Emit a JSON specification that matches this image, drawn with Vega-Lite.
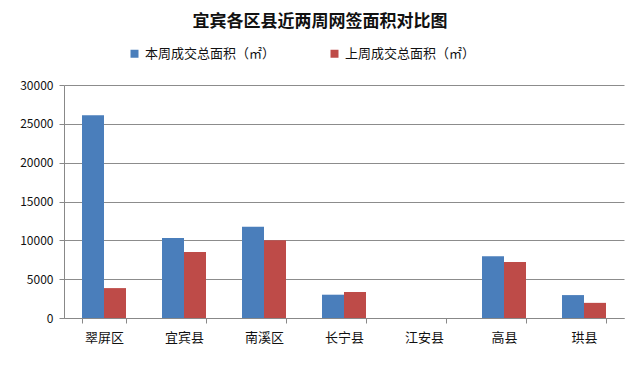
{
  "$schema": "https://vega.github.io/schema/vega-lite/v6.json",
  "autosize": "none",
  "width": 560,
  "height": 233,
  "padding": {"left": 64, "top": 85, "right": 16, "bottom": 49},
  "background": "white",
  "title": {
    "text": "宜宾各区县近两周网签面积对比图",
    "font": "Noto Sans CJK SC",
    "fontSize": 17,
    "fontWeight": "bold",
    "color": "#111",
    "anchor": "middle",
    "frame": "group",
    "dx": -24,
    "offset": 16
  },
  "data": {
    "values": [
      {"区县": "翠屏区", "系列": "本周成交总面积（㎡）", "面积": 26100},
      {"区县": "翠屏区", "系列": "上周成交总面积（㎡）", "面积": 3850},
      {"区县": "宜宾县", "系列": "本周成交总面积（㎡）", "面积": 10300},
      {"区县": "宜宾县", "系列": "上周成交总面积（㎡）", "面积": 8500},
      {"区县": "南溪区", "系列": "本周成交总面积（㎡）", "面积": 11750},
      {"区县": "南溪区", "系列": "上周成交总面积（㎡）", "面积": 10000},
      {"区县": "长宁县", "系列": "本周成交总面积（㎡）", "面积": 3000},
      {"区县": "长宁县", "系列": "上周成交总面积（㎡）", "面积": 3350},
      {"区县": "江安县", "系列": "本周成交总面积（㎡）", "面积": 0},
      {"区县": "江安县", "系列": "上周成交总面积（㎡）", "面积": 0},
      {"区县": "高县", "系列": "本周成交总面积（㎡）", "面积": 7950},
      {"区县": "高县", "系列": "上周成交总面积（㎡）", "面积": 7200},
      {"区县": "珙县", "系列": "本周成交总面积（㎡）", "面积": 2950},
      {"区县": "珙县", "系列": "上周成交总面积（㎡）", "面积": 1950}
    ]
  },
  "mark": {"type": "bar"},
  "encoding": {
    "x": {
      "field": "区县",
      "type": "nominal",
      "sort": null,
      "scale": {"paddingInner": 0.45, "paddingOuter": 0.225},
      "axis": {
        "title": null,
        "labelAngle": 0,
        "tickBand": "extent",
        "tickSize": 5,
        "tickColor": "#888",
        "domainColor": "#888",
        "labelFont": "Noto Sans CJK SC",
        "labelFontSize": 13,
        "labelColor": "#111",
        "labelPadding": 8
      }
    },
    "xOffset": {
      "field": "系列",
      "type": "nominal",
      "sort": ["本周成交总面积（㎡）", "上周成交总面积（㎡）"],
      "scale": {"paddingInner": 0, "paddingOuter": 0}
    },
    "y": {
      "field": "面积",
      "type": "quantitative",
      "scale": {"domain": [0, 30000], "nice": false},
      "axis": {
        "title": null,
        "values": [0, 5000, 10000, 15000, 20000, 25000, 30000],
        "format": "d",
        "grid": true,
        "gridColor": "#8c8c8c",
        "domain": true,
        "domainColor": "#888",
        "tickColor": "#888",
        "tickSize": 5,
        "labelFont": "Noto Sans CJK SC",
        "labelFontSize": 12,
        "labelColor": "#111",
        "labelPadding": 6
      }
    },
    "color": {
      "field": "系列",
      "type": "nominal",
      "sort": ["本周成交总面积（㎡）", "上周成交总面积（㎡）"],
      "scale": {"range": ["#4a7ebb", "#be4b48"]},
      "legend": {
        "title": null,
        "orient": "none",
        "direction": "horizontal",
        "legendX": 64,
        "legendY": -38,
        "symbolType": "square",
        "symbolSize": 64,
        "symbolStrokeWidth": 0,
        "columnPadding": 52,
        "labelFont": "Noto Sans CJK SC",
        "labelFontSize": 13,
        "labelColor": "#111",
        "labelLimit": 300
      }
    }
  },
  "config": {
    "view": {"stroke": null}
  }
}
